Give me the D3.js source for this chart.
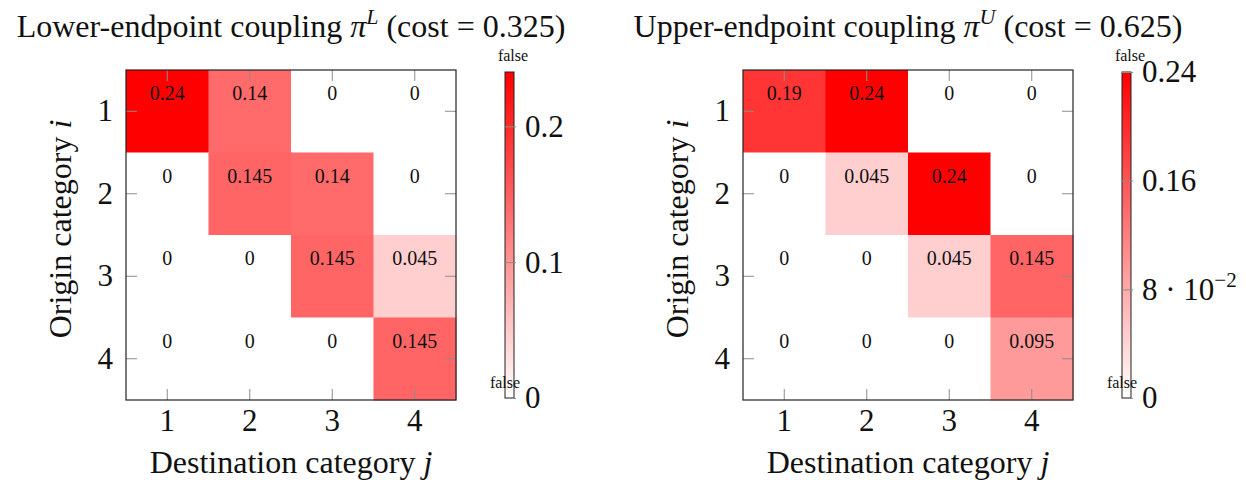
<!DOCTYPE html>
<html>
<head>
<meta charset="utf-8">
<script src="https://cdn.jsdelivr.net/npm/d3@7"></script>
<style>
  body { margin: 0; background: #fff; }
  svg { display: block; font-family: "Liberation Serif", "Times New Roman", serif; }
</style>
</head>
<body>
<div id="chart"></div>
<script>
// categories
const origins = [1, 2, 3, 4];
const destinations = [1, 2, 3, 4];

// coupling matrices (row = origin i, column = destination j)
const lowerValues = [
  [0.24, 0.14, 0, 0],
  [0, 0.145, 0.14, 0],
  [0, 0, 0.145, 0.045],
  [0, 0, 0, 0.145]
];
const upperValues = [
  [0.19, 0.24, 0, 0],
  [0, 0.045, 0.24, 0],
  [0, 0, 0.045, 0.145],
  [0, 0, 0, 0.095]
];

// colorbar ranges and ticks
const lowerMax = 0.24;
const upperMax = 0.24;
const lowerBarTicks = [0, 0.1, 0.2];
const upperBarTicks = [0, 0.08, 0.16, 0.24];

const W = 1246, H = 480;
const svg = d3.select('#chart').append('svg')
  .attr('width', W)
  .attr('height', H);

const defs = svg.append('defs');
const grad = defs.append('linearGradient')
  .attr('id', 'wr')
  .attr('x1', 0).attr('y1', 1).attr('x2', 0).attr('y2', 0);
grad.append('stop').attr('offset', '0%').attr('stop-color', '#ffffff');
grad.append('stop').attr('offset', '100%').attr('stop-color', '#ff0000');

function drawPanel(cfg) {
  const { left, top, size, values, vmax, barTicks, barFormat, letter, cost } = cfg;
  const g = svg.append('g');

  const x = d3.scaleBand().domain(destinations).range([left, left + size]);
  const y = d3.scaleBand().domain(origins).range([top, top + size]);
  const color = d3.scaleLinear().domain([0, vmax]).range(['#ffffff', '#ff0000']);

  // cells
  const cells = [];
  values.forEach((row, i) => row.forEach((v, j) => {
    cells.push({ i: origins[i], j: destinations[j], v });
  }));

  g.selectAll('rect.cell')
    .data(cells)
    .join('rect')
    .attr('class', 'cell')
    .attr('x', d => x(d.j))
    .attr('y', d => y(d.i))
    .attr('width', x.bandwidth() + 0.5)
    .attr('height', y.bandwidth() + 0.5)
    .attr('fill', d => color(d.v));

  g.selectAll('text.val')
    .data(cells)
    .join('text')
    .attr('class', 'val')
    .attr('x', d => x(d.j) + x.bandwidth() / 2)
    .attr('y', d => y(d.i) + y.bandwidth() / 2 - 11)
    .attr('text-anchor', 'middle')
    .style('font-size', '20px')
    .attr('fill', '#111')
    .text(d => String(d.v));

  // axes with inward ticks
  const tickLen = 11;
  const bottomAxis = g.append('g')
    .attr('transform', `translate(0,${top + size})`)
    .call(d3.axisBottom(x).tickSizeInner(-tickLen).tickSizeOuter(0).tickPadding(9));
  const leftAxis = g.append('g')
    .attr('transform', `translate(${left},0)`)
    .call(d3.axisLeft(y).tickSizeInner(-tickLen).tickSizeOuter(0).tickPadding(13));
  g.append('g')
    .attr('transform', `translate(0,${top})`)
    .call(d3.axisTop(x).tickSizeInner(-tickLen).tickSizeOuter(0).tickFormat(''));
  g.append('g')
    .attr('transform', `translate(${left + size},0)`)
    .call(d3.axisRight(y).tickSizeInner(-tickLen).tickSizeOuter(0).tickFormat(''));

  g.selectAll('.domain').remove();
  g.selectAll('.tick line').attr('stroke', '#8c8c8c').attr('stroke-width', 1);
  [bottomAxis, leftAxis].forEach(a => a.selectAll('text')
    .style('font-size', '31px')
    .style('font-family', '"Liberation Serif", serif')
    .attr('fill', '#111'));

  // frame
  g.append('rect')
    .attr('x', left).attr('y', top)
    .attr('width', size).attr('height', size)
    .attr('fill', 'none')
    .attr('stroke', '#222')
    .attr('stroke-width', 1.2);

  // axis titles
  const xt = g.append('text')
    .attr('x', left + size / 2)
    .attr('y', top + size + 73)
    .attr('text-anchor', 'middle')
    .style('font-size', '32px')
    .attr('fill', '#111');
  xt.append('tspan').text('Destination category ');
  xt.append('tspan').style('font-style', 'italic').text('j');

  const yt = g.append('text')
    .attr('transform', `translate(${left - 55},${top + size / 2 - 6}) rotate(-90)`)
    .attr('text-anchor', 'middle')
    .style('font-size', '32px')
    .attr('fill', '#111');
  yt.append('tspan').text('Origin category ');
  yt.append('tspan').style('font-style', 'italic').text('i');

  // title
  const tt = g.append('text')
    .attr('x', left + size / 2)
    .attr('y', 37)
    .attr('text-anchor', 'middle')
    .style('font-size', '32px')
    .attr('fill', '#111');
  tt.append('tspan').text(cfg.name + ' coupling ');
  tt.append('tspan').style('font-style', 'italic').text('π');
  tt.append('tspan').style('font-style', 'italic').style('font-size', '22px')
    .attr('dy', -13).text(letter);
  tt.append('tspan').attr('dy', 13).text(` (cost = ${cost})`);

  // colorbar
  const barX = left + size + 49;
  const barW = 9;
  const barTop = top + 2, barBot = top + size - 2;
  const cb = d3.scaleLinear().domain([0, vmax]).range([barBot, barTop]);

  g.append('rect')
    .attr('x', barX).attr('y', barTop)
    .attr('width', barW).attr('height', barBot - barTop)
    .attr('fill', 'url(#wr)')
    .attr('stroke', '#222')
    .attr('stroke-width', 1);

  const cbAxis = g.append('g')
    .attr('transform', `translate(${barX},0)`)
    .call(d3.axisRight(cb).tickValues(barTicks).tickSizeInner(11).tickSizeOuter(0).tickPadding(9)
      .tickFormat(barFormat));
  cbAxis.select('.domain').remove();
  cbAxis.selectAll('.tick line').attr('stroke', '#8c8c8c');
  cbAxis.selectAll('text')
    .style('font-size', '31px')
    .style('font-family', '"Liberation Serif", serif')
    .attr('fill', '#111');

  // replace the scientific label with a superscript form
  cbAxis.selectAll('.tick text').each(function (d) {
    const t = d3.select(this);
    if (t.text().indexOf('e') >= 0) {
      t.text(null);
      t.append('tspan').text('8 · 10');
      t.append('tspan').style('font-size', '21px').attr('dy', -13).text('−2');
    }
  });

  // stray "false" labels at both ends of the colorbar
  g.append('text')
    .attr('x', barX + barW - 1)
    .attr('y', top - 9)
    .attr('text-anchor', 'middle')
    .style('font-size', '16px')
    .attr('fill', '#111')
    .text('false');
  g.append('text')
    .attr('x', barX)
    .attr('y', top + size - 12)
    .attr('text-anchor', 'middle')
    .style('font-size', '16px')
    .attr('fill', '#111')
    .text('false');
}

drawPanel({
  name: 'Lower-endpoint', letter: 'L', cost: '0.325',
  left: 126, top: 70, size: 330,
  values: lowerValues, vmax: lowerMax,
  barTicks: lowerBarTicks,
  barFormat: d => String(d)
});

drawPanel({
  name: 'Upper-endpoint', letter: 'U', cost: '0.625',
  left: 743, top: 70, size: 330,
  values: upperValues, vmax: upperMax,
  barTicks: upperBarTicks,
  barFormat: d => (d === 0.08 ? '8e-2' : String(d))
});
</script>
</body>
</html>
